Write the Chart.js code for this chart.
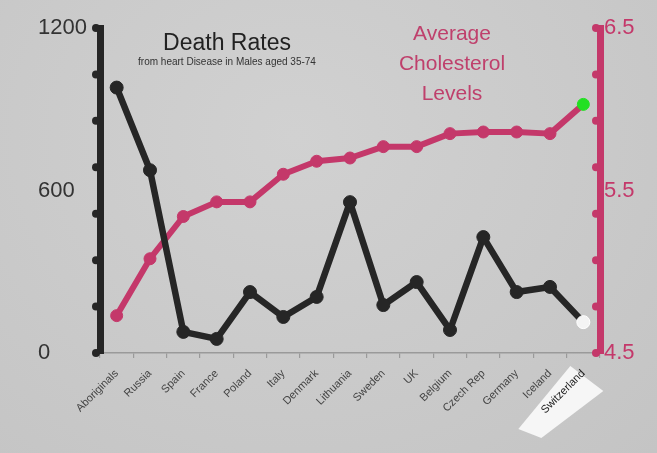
<!DOCTYPE html>
<html>
<head>
<meta charset="utf-8">
<title>Death Rates vs Cholesterol</title>
<script src="https://cdn.jsdelivr.net/npm/chart.js@4.4.0/dist/chart.umd.min.js"></script>
<style>
  html, body { margin: 0; padding: 0; }
  body { background: radial-gradient(ellipse at 45% 30%, #d1d1d1 0%, #cacaca 55%, #c4c4c4 100%); }
  #wrap { width: 657px; height: 453px; position: relative; }
</style>
</head>
<body>
<div id="wrap"><canvas id="chart"></canvas></div>
<script>
const countries = [
  "Aboriginals", "Russia", "Spain", "France", "Poland", "Italy", "Denmark",
  "Lithuania", "Sweden", "UK", "Belgium", "Czech Rep", "Germany", "Iceland", "Switzerland"
];
const deathRates = [980, 675, 78, 52, 225, 133, 207, 557, 177, 262, 85, 428, 225, 244, 114];
const cholesterol = [4.73, 5.08, 5.34, 5.43, 5.43, 5.60, 5.68, 5.70, 5.77, 5.77, 5.85, 5.86, 5.86, 5.85, 6.03];
const deathTicks = [0, 600, 1200];
const cholTicks = [4.5, 5.5, 6.5];
const axisDotSteps = 7;

const BLACK = "#262626";
const PINK = "#c4386a";
const FONT = "'Liberation Sans', Arial, sans-serif";
const last = countries.length - 1;

/* -----------------------------
 * Plugins
 * ----------------------------- */
// white tag behind the highlighted (last) category label
const labelTag = {
  id: "labelTag",
  beforeDraw(chart) {
    const { ctx, scales: { x } } = chart;
    const px = x.getPixelForValue(last);
    const py = x.top;
    ctx.save();
    ctx.fillStyle = "#f6f6f6";
    ctx.beginPath();
    ctx.moveTo(px - 13, py + 13);
    ctx.lineTo(px + 20, py + 38);
    ctx.lineTo(px - 42, py + 85);
    ctx.lineTo(px - 65, py + 76);
    ctx.closePath();
    ctx.fill();
    ctx.restore();
  },
};

// little knobs on the two vertical axes
const axisDots = {
  id: "axisDots",
  afterDatasetsDraw(chart) {
    const { ctx, scales } = chart;
    const draw = (scale, xPos, color) => {
      ctx.save();
      ctx.fillStyle = color;
      for (let k = 0; k <= axisDotSteps; k++) {
        const v = scale.min + (scale.max - scale.min) * k / axisDotSteps;
        ctx.beginPath();
        ctx.arc(xPos, scale.getPixelForValue(v), 4, 0, Math.PI * 2);
        ctx.fill();
      }
      ctx.restore();
    };
    draw(scales.yDeath, scales.yDeath.right - 4, BLACK);
    draw(scales.yChol, scales.yChol.left - 4, PINK);
  },
};

const headings = {
  id: "headings",
  afterDraw(chart) {
    const { ctx } = chart;
    ctx.save();
    ctx.textAlign = "center";
    ctx.textBaseline = "alphabetic";
    ctx.fillStyle = "#222";
    ctx.font = `23px ${FONT}`;
    ctx.fillText("Death Rates", 227, 50);
    ctx.font = `10px ${FONT}`;
    ctx.fillStyle = "#333";
    ctx.fillText("from heart Disease in Males aged 35-74", 227, 65);
    ctx.fillStyle = "#bf406c";
    ctx.font = `21px ${FONT}`;
    ["Average", "Cholesterol", "Levels"].forEach((t, i) => ctx.fillText(t, 452, 40 + i * 30));
    ctx.restore();
  },
};

/* -----------------------------
 * Chart
 * ----------------------------- */
new Chart(document.getElementById("chart"), {
  type: "line",
  data: {
    labels: countries,
    datasets: [
      {
        label: "Death Rates",
        data: deathRates,
        yAxisID: "yDeath",
        order: 0,
        borderColor: BLACK,
        borderWidth: 6.5,
        borderJoinStyle: "round",
        borderCapStyle: "round",
        pointRadius: 6.5,
        pointBorderWidth: 1,
        pointBackgroundColor: (c) => (c.dataIndex === last ? "#f4f4f4" : BLACK),
        pointBorderColor: (c) => (c.dataIndex === last ? "#ffffff" : BLACK),
        tension: 0,
        clip: false,
      },
      {
        label: "Average Cholesterol Levels",
        data: cholesterol,
        yAxisID: "yChol",
        order: 1,
        borderColor: PINK,
        borderWidth: 6,
        borderJoinStyle: "round",
        borderCapStyle: "round",
        pointRadius: 6,
        pointBorderWidth: 1,
        pointBackgroundColor: (c) => (c.dataIndex === last ? "#22e022" : PINK),
        pointBorderColor: (c) => (c.dataIndex === last ? "#22e022" : PINK),
        tension: 0,
        clip: false,
      },
    ],
  },
  options: {
    responsive: true,
    maintainAspectRatio: false,
    animation: false,
    layout: { padding: { top: 28, left: 38, right: 0, bottom: 0 } },
    plugins: {
      legend: { display: false },
      tooltip: { enabled: false },
    },
    scales: {
      x: {
        offset: true,
        grid: {
          offset: true,
          drawOnChartArea: false,
          drawTicks: true,
          tickLength: 5,
          color: "#9a9a9a",
          lineWidth: 1.2,
        },
        border: { display: true, color: "#9a9a9a", width: 1.5 },
        ticks: {
          autoSkip: false,
          minRotation: 45,
          maxRotation: 45,
          padding: 9,
          color: (c) => (c.index === last ? "#222" : "#444"),
          font: { family: FONT, size: 11 },
        },
        afterFit(s) { s.height = 100; },
      },
      yDeath: {
        position: "left",
        min: 0,
        max: 1200,
        grid: { display: false, drawTicks: false },
        border: { display: true, color: BLACK, width: 7 },
        ticks: {
          crossAlign: "far",
          color: "#333",
          font: { family: FONT, size: 22 },
          callback: (v) => String(v),
        },
        afterBuildTicks(s) { s.ticks = deathTicks.map((v) => ({ value: v })); },
        afterFit(s) { s.width = 62; },
      },
      yChol: {
        position: "right",
        min: 4.5,
        max: 6.5,
        grid: { display: false, drawTicks: false },
        border: { display: true, color: PINK, width: 7 },
        ticks: {
          padding: 4,
          color: PINK,
          font: { family: FONT, size: 22 },
          callback: (v) => v.toFixed(1),
        },
        afterBuildTicks(s) { s.ticks = cholTicks.map((v) => ({ value: v })); },
        afterFit(s) { s.width = 57; },
      },
    },
  },
  plugins: [labelTag, axisDots, headings],
});
</script>
</body>
</html>
